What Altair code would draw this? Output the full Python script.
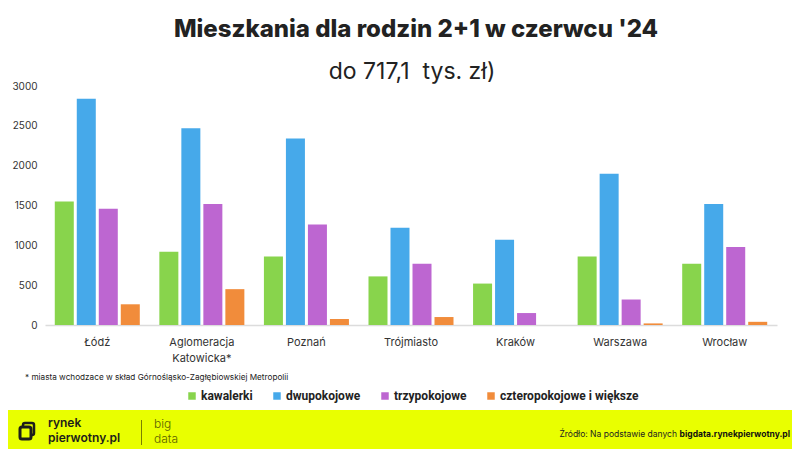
import altair as alt
import pandas as pd

cities = ["Łódź", "Aglomeracja\nKatowicka*", "Poznań", "Trójmiasto", "Kraków", "Warszawa", "Wrocław"]
series = ["kawalerki", "dwupokojowe", "trzypokojowe", "czteropokojowe i większe"]
kawalerki = [1550, 920, 860, 610, 520, 860, 770]
dwupokojowe = [2840, 2470, 2340, 1220, 1070, 1900, 1520]
trzypokojowe = [1460, 1520, 1260, 770, 150, 320, 980]
czteropokojowe = [260, 450, 75, 100, 0, 20, 40]
colors = ["#88d44c", "#46a9ea", "#bd66d1", "#f18c3b"]
y_ticks = [0, 500, 1000, 1500, 2000, 2500, 3000]

title_text = "Mieszkania dla rodzin 2+1 w czerwcu '24"
subtitle_text = "do 717,1\u00a0 tys. zł)"
footnote_text = "* miasta wchodzace w skład Górnośląsko-Zagłębiowskiej Metropolii"
source_regular = "Źródło: Na podstawie danych"
source_bold = "bigdata.rynekpierwotny.pl"

FONT = "Inter"
rows = []
for name, vals in zip(series, [kawalerki, dwupokojowe, trzypokojowe, czteropokojowe]):
    for c, v in zip(cities, vals):
        rows.append({"city": c, "type": name, "value": v})
df = pd.DataFrame(rows)

W, H = 732, 239

bars = alt.Chart(df).mark_bar().encode(
    x=alt.X("city:N", sort=cities, title=None,
            scale=alt.Scale(paddingInner=0.187, paddingOuter=0.0935),
            axis=alt.Axis(labelAngle=0, ticks=False, domain=True, domainColor="#dcdcdc",
                          domainWidth=1.5, labelFont=FONT, labelFontSize=11, labelColor="#333",
                          labelPadding=11, labelLineHeight=16,
                          labelExpr="split(datum.label, '\\n')")),
    xOffset=alt.XOffset("type:N", sort=series,
                        scale=alt.Scale(domain=series, paddingInner=0.136, paddingOuter=0)),
    y=alt.Y("value:Q", title=None, scale=alt.Scale(domain=[0, 3000], nice=False),
            axis=alt.Axis(values=y_ticks, format="d", grid=False, domain=False, ticks=False,
                          labelFont=FONT, labelFontSize=10, labelColor="#333", labelPadding=8)),
    color=alt.Color("type:N", scale=alt.Scale(domain=series, range=colors),
                    legend=alt.Legend(orient="none", legendX=141, legendY=304,
                                      direction="horizontal", title=None, symbolType="square",
                                      symbolSize=56, symbolStrokeWidth=0, symbolOpacity=1,
                                      labelFont="Roboto", labelFontSize=12, labelFontWeight="bold",
                                      labelColor="#222", columnPadding=18, labelOffset=3,
                                      labelLimit=400)),
)

band = alt.Chart(pd.DataFrame({"a": [0]})).mark_rect(color="#e9ff00").encode(
    x=alt.value(-37), x2=alt.value(747), y=alt.value(324), y2=alt.value(370))

def txt(s, x, y, size, weight="normal", align="left", color="#222", font=FONT):
    return alt.Chart(pd.DataFrame({"t": [s]})).mark_text(
        align=align, baseline="alphabetic", fontSize=size, fontWeight=weight,
        color=color, font=font).encode(text="t:N", x=alt.value(x), y=alt.value(y))

logo_back = alt.Chart(pd.DataFrame({"a": [0]})).mark_rect(
    fill="#e9ff00", stroke="#1d1d1b", strokeWidth=2.5, cornerRadius=2).encode(
    x=alt.value(-22), x2=alt.value(-11), y=alt.value(337), y2=alt.value(349))
logo_front = alt.Chart(pd.DataFrame({"a": [0]})).mark_rect(
    fill="#e9ff00", stroke="#1d1d1b", strokeWidth=3, cornerRadius=2).encode(
    x=alt.value(-25), x2=alt.value(-14), y=alt.value(341), y2=alt.value(353))
divider = alt.Chart(pd.DataFrame({"a": [0]})).mark_rule(color="#7a8000", strokeWidth=1).encode(
    x=alt.value(96.5), y=alt.value(334), y2=alt.value(359))

layers = [
    band,
    bars,
    txt(title_text, 371, -49, 24, 800, "center", "#222"),
    txt(subtitle_text, 367, -7, 23, "normal", "center", "#222"),
    txt(footnote_text, -20, 294, 8.2, "normal", "left", "#222"),
    logo_back, logo_front, divider,
    txt("rynek", 3, 341, 12, 600, "left", "#1d1d1b"),
    txt("pierwotny.pl", 3, 356, 12, 600, "left", "#1d1d1b"),
    txt("big", 109, 342, 12, 300, "left", "#5c6100"),
    txt("data", 109, 357, 12, 300, "left", "#5c6100"),
    txt(source_regular, 632, 351, 8.5, "normal", "right", "#222"),
    txt(source_bold, 745, 351, 8.5, "bold", "right", "#111"),
]

chart = alt.layer(*layers).properties(
    width=W, height=H,
    autosize=alt.AutoSizeParams(type="none"),
    padding={"left": 37, "right": 15, "top": 78, "bottom": 124},
    background="white",
).configure_view(stroke=None)

chart.save("out.html", embed_options={"renderer": "svg", "actions": False})
